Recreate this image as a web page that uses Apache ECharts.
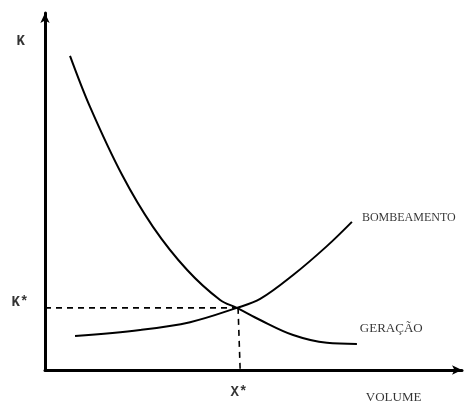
<!DOCTYPE html>
<html>
<head>
<meta charset="utf-8">
<script src="https://cdn.jsdelivr.net/npm/echarts@6/dist/echarts.min.js"></script>
<style>html,body{margin:0;padding:0;background:#fff}#c{width:471px;height:404px}</style>
</head>
<body>
<div id="c"></div>
<script>
// Curve "GERAÇÃO" (decreasing) : [volume, K]
const geracao = [[6.0,88.0],[10.8,73.7],[18.5,54.6],[25.9,40.1],[34.1,28.0],[42.0,19.6],[46.0,17.4],[51.6,14.0],[59.5,9.8],[67.6,7.6],[74.8,7.3]];
// Curve "BOMBEAMENTO" (increasing)
const bombeamento = [[7.2,9.5],[22.8,11.2],[34.8,13.4],[46.0,17.4],[51.6,19.9],[59.5,26.6],[67.6,34.7],[73.6,41.5]];
// Equilibrium point (X*, K*)
const equilibrium = [46.3, 17.4];
// Text labels: [text, x, y, align, style, size]
const labels = [
  ['K', -5.8, 91.9, 'center', 'mono', 14],
  ['K*', -6.0, 19.0, 'center', 'mono', 14],
  ['X*', 46.5, -6.4, 'center', 'mono', 14],
  ['VOLUME', 83.6, -7.6, 'center', 'serif', 13],
  ['BOMBEAMENTO', 76.0, 42.6, 'left', 'serif', 12],
  ['GERAÇÃO', 75.5, 11.5, 'left', 'serif', 13]
];

const chart = echarts.init(document.getElementById('c'));
const axisCommon = {
  type: 'value', min: 0, max: 100,
  axisTick: {show: false}, axisLabel: {show: false}, splitLine: {show: false},
  axisLine: {show: true, symbol: ['none', 'arrow'], symbolSize: [7, 10], lineStyle: {color: '#000', width: 3}}
};
chart.setOption({
  animation: false,
  backgroundColor: '#fff',
  grid: {left: 45, top: 13, right: 9, bottom: 34},
  xAxis: Object.assign({}, axisCommon),
  yAxis: Object.assign({}, axisCommon),
  series: [
    {type: 'line', data: geracao, smooth: 0.35, showSymbol: false, lineStyle: {color: '#000', width: 2}},
    {type: 'line', data: bombeamento, smooth: 0.35, showSymbol: false, lineStyle: {color: '#000', width: 2}},
    {type: 'line', data: [[0, equilibrium[1]], equilibrium], showSymbol: false,
      lineStyle: {color: '#000', width: 1.6, type: [6, 5]}},
    {type: 'line', data: [equilibrium, [equilibrium[0] + 0.5, 0]], showSymbol: false,
      lineStyle: {color: '#000', width: 1.6, type: [6, 5]}},
    {type: 'scatter', clip: false, symbolSize: 0, silent: true,
      data: labels.map(l => ({value: [l[1], l[2]],
        label: {show: true, position: 'inside', formatter: l[0], align: l[3], verticalAlign: 'middle',
          color: '#000',
          fontFamily: l[4] === 'mono' ? 'Liberation Mono' : 'Liberation Serif',
          fontWeight: l[4] === 'mono' ? 'bold' : 'normal',
          fontSize: l[5]}}))}
  ]
});
</script>
</body>
</html>
